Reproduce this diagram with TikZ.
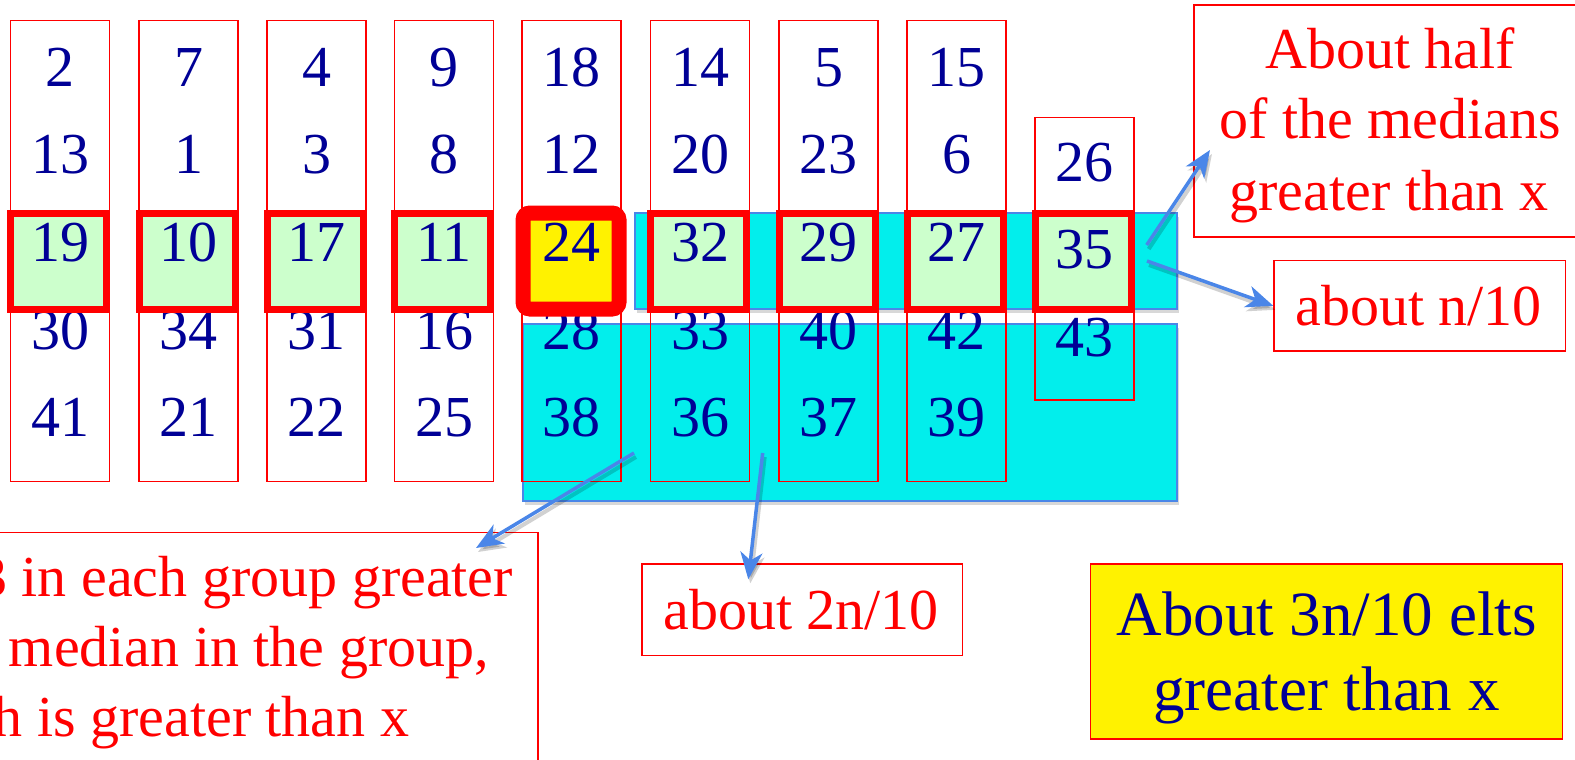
\documentclass[tikz,border=0pt]{standalone}
\usepackage{fontspec}
\setmainfont{Liberation Serif}
\newfontfamily\tnr{Liberation Serif}
\usetikzlibrary{shadows,arrows.meta}
\definecolor{navy}{RGB}{0,0,150}
\definecolor{cyanf}{RGB}{2,238,236}
\definecolor{cblue}{RGB}{74,134,232}
\definecolor{lgreen}{RGB}{204,255,204}
\begin{document}
\begin{tikzpicture}[x=1pt,y=-1pt,
  colbox/.style={draw=red, line width=1.3pt, inner sep=0pt, outer sep=0pt, minimum width=99pt},
  num/.style={text=navy, font=\tnr\fontsize{58}{70}\selectfont, anchor=base, inner sep=0pt},
  med/.style={draw=red, line width=7pt, fill=lgreen, inner sep=0pt, minimum width=96pt, minimum height=96pt,
     drop shadow={shadow xshift=2pt, shadow yshift=-4pt, opacity=0.3}},
  pivot/.style={draw=red, line width=15pt, fill=yellow, rounded corners=7pt, inner sep=0pt, minimum width=96pt, minimum height=96pt,
     drop shadow={shadow xshift=2pt, shadow yshift=-4pt, opacity=0.3}},
  cyanbox/.style={draw=cblue, line width=2pt, fill=cyanf, inner sep=0pt,
     drop shadow={shadow xshift=2pt, shadow yshift=-4pt, opacity=0.3}},
  tbox/.style={draw=red, line width=1.5pt, inner sep=0pt},
  rtext/.style={text=red, font=\tnr\fontsize{58}{70}\selectfont, anchor=base, inner sep=0pt},
  btext/.style={text=navy, font=\tnr\fontsize{63}{76}\selectfont, anchor=base, inner sep=0pt},
  arr/.style={draw=cblue, line width=3.5pt, -{Stealth[length=27pt,width=22pt,inset=8pt]}},
  arrshadow/.style={draw=black, opacity=0.18, line width=4pt, -{Stealth[length=27pt,width=22pt,inset=8pt]}}
]
\useasboundingbox (0,0) rectangle (1575,760);
\clip (0,0) rectangle (1575,760);
\fill[white] (0,0) rectangle (1575,760);

% cyan regions
\node[cyanbox, minimum width=542pt, minimum height=96pt] (up) at (906,260.7) {};
\node[cyanbox, minimum width=654.5pt, minimum height=176.4pt] (low) at (849.75,412.5) {};

% columns, ordinary numbers
\foreach \i/\l/\a/\b/\d/\e in {1/10.7/2/13/30/41, 2/139/7/1/34/21, 3/267/4/3/31/22, 4/394.5/9/8/16/25,
    5/522/18/12/28/38, 6/650.5/14/20/33/36, 7/779/5/23/40/37, 8/907/15/6/42/39}{
  \node[colbox, minimum height=461pt] (col\i) at (\l+49.5,251) {};
  \node[num] (a\i) at (\l+49.5,86) {\a};
  \node[num] (b\i) at (\l+49.5,173) {\b};
  \node[num] (d\i) at (\l+49.5,349) {\d};
  \node[num] (e\i) at (\l+49.5,436.5) {\e};
}
\node[colbox, minimum height=282.5pt] (col9) at (1084.5,258.75) {};
\node[num] (a9) at (1084.5,181) {26};
\node[num] (d9) at (1084.5,356.5) {43};

% medians
\foreach \i/\l/\c in {1/10.7/19, 2/139/10, 3/267/17, 4/394.5/11, 6/650.5/32, 7/779/29, 8/907/27}{
  \node[med] (m\i) at (\l+48,261) {};
  \node[num] (c\i) at (\l+49.5,261.5) {\c};
}
\node[med] (m9) at (1083,261) {};
\node[num] (c9) at (1084.5,268) {35};
\node[pivot] (m5) at (571,261) {};
\node[num] (c5) at (571.5,261) {24};

% text boxes
\node[tbox, minimum width=392pt, minimum height=232pt] (half) at (1390,121) {};
\node[rtext] (h1) at (1390,69) {About half};
\node[rtext] (h2) at (1390,138) {of the medians};
\node[rtext] (h3) at (1389,210) {greater than x};

\node[tbox, minimum width=291.7pt, minimum height=90.3pt] (nten) at (1419.85,305.85) {};
\node[rtext] (nt) at (1418.5,325) {about n/10};

\node[tbox, minimum width=320.6pt, minimum height=91.7pt] (twon) at (802.3,609.85) {};
\node[rtext] (tw) at (801,629) {about 2n/10};

\node[tbox, fill=yellow, minimum width=472pt, minimum height=175pt] (yel) at (1326.7,651.5) {};
\node[btext] (y1) at (1326.5,635) {About 3n/10 elts};
\node[btext] (y2) at (1326.5,710.7) {greater than x};

\node[tbox, minimum width=778pt, minimum height=267.7pt] (grp) at (149,666.15) {};
\node[rtext] (g1) at (149,596.7) {At least 3 in each group greater};
\node[rtext] (g2) at (149,666.7) {than the median in the group,};
\node[rtext] (g3) at (145,736.7) {which is greater than x};

% arrows
\coordinate (sa) at (1146.7,245);
\coordinate (ta) at (1210,150);
\coordinate (sb) at (1147,261);
\coordinate (sc) at (634,453);
\coordinate (tc) at (476,548);
\coordinate (sd) at (762.7,453);
\coordinate (td) at (748.3,579.3);
\begin{scope}[transform canvas={shift={(2pt,-4pt)}}]
\draw[arrshadow] (sa) -- (ta);
\draw[arrshadow] (sb) -- (nten.west);
\draw[arrshadow] (sc) -- (tc);
\draw[arrshadow] (sd) -- (td);
\end{scope}
\draw[arr] (sa) -- (ta);
\draw[arr] (sb) -- (nten.west);
\draw[arr] (sc) -- (tc);
\draw[arr] (sd) -- (td);
\end{tikzpicture}
\end{document}
